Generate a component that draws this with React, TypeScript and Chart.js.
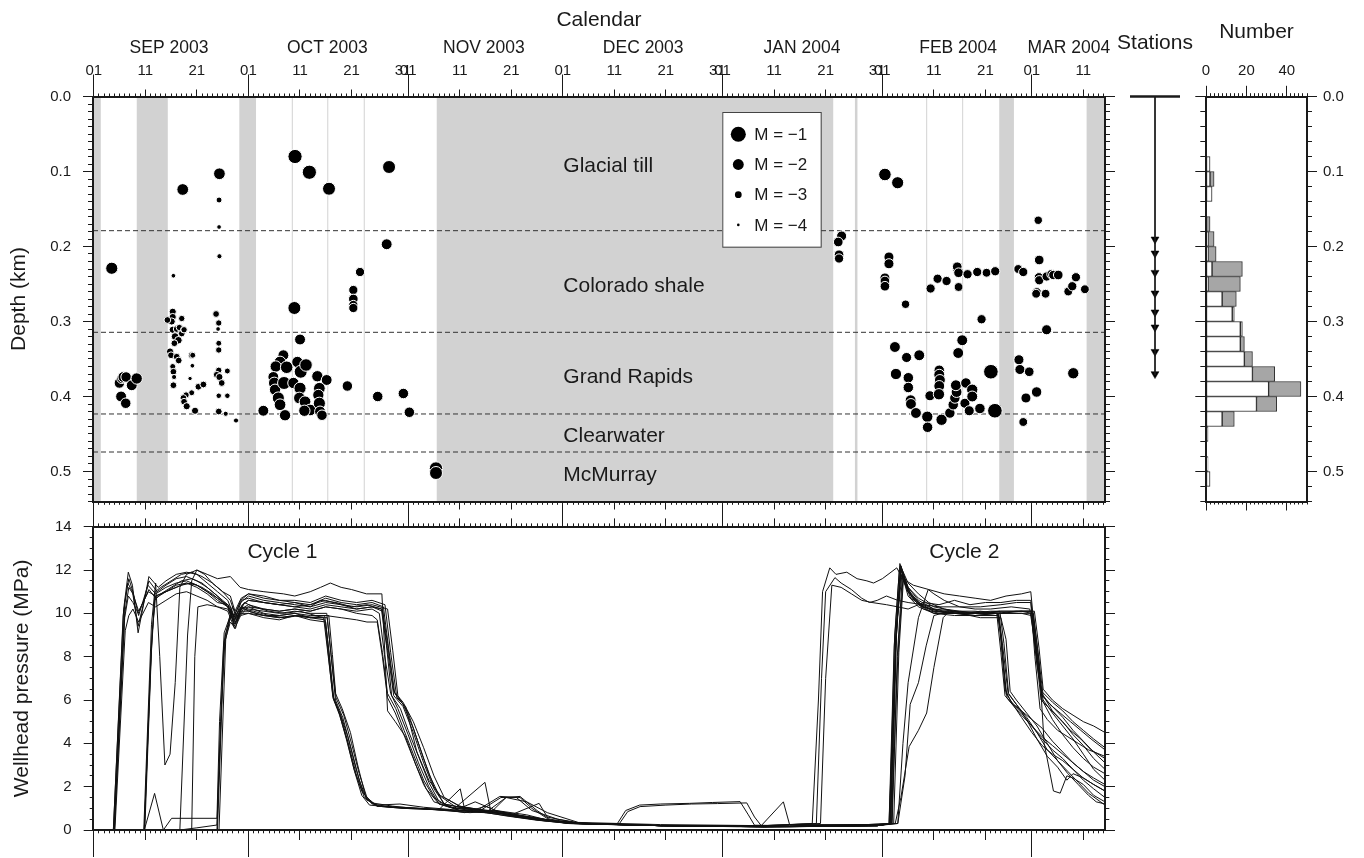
import React, { useEffect, useRef } from 'react';
import { Chart, registerables } from 'chart.js';

Chart.register(...registerables);

const FONT = '"Liberation Sans", Arial, Helvetica, sans-serif';
const INK = '#1a1a1a';
Chart.defaults.font.family = FONT;
Chart.defaults.color = INK;

// ---------------- calendar: x = days since 2003-09-01 ----------------
const dayMin = -0.15;
const dayMax = 196.2;
const monthStartDays = [0, 30, 61, 91, 122, 153, 182];
const midMonthTickDays = [10, 20, 40, 50, 71, 81, 101, 111, 132, 142, 163, 173, 192];
const dateLabelDays = [0, 10, 20, 30, 40, 50, 60, 61, 71, 81, 91, 101, 111, 121, 122, 132, 142, 152, 153, 163, 173, 182, 192];
const dateLabels = ['01', '11', '21', '01', '11', '21', '31', '01', '11', '21', '01', '11', '21', '31', '01', '11', '21', '31', '01', '11', '21', '01', '11'];
const monthLabelDays = [14.6, 45.3, 75.7, 106.6, 137.4, 167.7, 189.2];
const monthLabels = ['SEP 2003', 'OCT 2003', 'NOV 2003', 'DEC 2003', 'JAN 2004', 'FEB 2004', 'MAR 2004'];

// monitoring gaps (grey bands) and short outages (thin lines)
const gapStart = [-0.15, 8.34, 28.24, 66.54, 147.68, 175.68, 192.63];
const gapEnd = [1.36, 14.36, 31.48, 143.47, 148.17, 178.53, 196.2];
const shortGapDays = [38.53, 45.39, 52.49, 161.59, 168.57];

// ---------------- depth axis ----------------
const depthMax = 0.54;
const depthTicks = [0, 0.1, 0.2, 0.3, 0.4, 0.5];
const depthTickLabels = ['0.0', '0.1', '0.2', '0.3', '0.4', '0.5'];
const layerBoundaries = [0.1789, 0.3144, 0.4233, 0.474];
const layerNames = ['Glacial till', 'Colorado shale', 'Grand Rapids', 'Clearwater', 'McMurray'];
const layerLabelDepths = [0.0927, 0.2527, 0.3744, 0.4527, 0.5047];
const layerLabelDay = 91.1;

// ---------------- microseismic events ----------------
const eventDay = [
  3.49, 4.97, 5.43, 5.75, 6.27, 7.37, 8.33, 5.3, 6.2,
  17.26, 15.45, 15.32, 15.32, 15.12, 14.28, 15.32, 16.09, 16.61, 15.77, 16.42, 17.07, 17.39, 15.64, 14.8, 14.99, 16.09, 16.48, 15.32, 15.45, 15.58, 15.45, 17.07, 17.52, 19.0, 19.2, 19.13, 18.68, 19.0, 17.91, 17.39, 17.52, 18.03, 19.65, 20.3, 21.27,
  24.38, 24.31, 24.31, 24.38, 23.73, 24.25, 24.12, 24.25, 24.25, 24.25, 23.86, 24.38, 24.83, 25.92, 24.25, 25.92, 24.25, 25.6, 27.6,
  32.9, 39.05, 41.83, 45.64, 38.92, 40.02, 36.79, 36.14, 35.3, 34.84, 35.03, 35.17, 35.81, 36.14, 37.11, 37.43, 36.92, 38.73, 39.5, 40.15, 41.18, 40.02, 39.9, 40.99, 41.96, 40.86, 43.38, 45.19, 43.77, 43.57, 43.77, 43.9, 44.28, 57.29, 56.83, 51.66, 50.36, 50.36, 50.36, 50.36, 49.2, 55.09, 60.07, 61.23, 66.4, 66.4,
  145.1, 144.45, 144.6, 144.6, 153.5, 155.97, 154.28, 154.28, 153.5, 153.5, 153.5, 157.5, 155.44, 157.7, 160.16, 155.64, 158.04, 158.04, 158.49, 158.55, 159.52, 161.72, 161.78, 162.23, 164.04, 164.04, 164.17, 164.04, 163.98, 164.49, 166.1, 166.75, 167.07, 167.4, 167.27, 169.21, 169.02, 169.86, 170.44, 170.44, 171.93, 174.84, 174.06, 172.25, 168.5, 167.72,
  162.36, 163.72, 165.46, 167.53, 167.53, 167.79, 167.79, 169.53, 171.41, 173.22, 174.9, 179.37, 180.34, 183.44, 183.25, 183.38, 183.44, 184.87, 185.84, 186.16, 187.13, 182.96, 182.84, 184.67, 189.07, 189.85, 190.56, 192.3, 184.87, 179.5, 179.69, 181.5, 182.93, 180.86, 180.34, 190.04,
];
const eventDepth = [
  0.229, 0.382, 0.376, 0.374, 0.374, 0.385, 0.376, 0.400, 0.409,
  0.124, 0.239, 0.287, 0.294, 0.300, 0.298, 0.311, 0.310, 0.308, 0.320, 0.325, 0.316, 0.311, 0.329, 0.340, 0.345, 0.347, 0.352, 0.360, 0.367, 0.374, 0.385, 0.296, 0.311, 0.345, 0.345, 0.359, 0.376, 0.395, 0.398, 0.402, 0.407, 0.413, 0.419, 0.387, 0.384,
  0.103, 0.138, 0.174, 0.213, 0.290, 0.302, 0.310, 0.329, 0.338, 0.365, 0.371, 0.374, 0.382, 0.366, 0.399, 0.399, 0.420, 0.423, 0.432,
  0.419, 0.080, 0.101, 0.123, 0.282, 0.324, 0.345, 0.354, 0.360, 0.374, 0.382, 0.391, 0.402, 0.411, 0.425, 0.361, 0.382, 0.382, 0.354, 0.367, 0.358, 0.389, 0.402, 0.407, 0.418, 0.419, 0.373, 0.378, 0.389, 0.398, 0.409, 0.420, 0.425, 0.094, 0.197, 0.234, 0.258, 0.270, 0.278, 0.282, 0.386, 0.400, 0.396, 0.421, 0.496, 0.502,
  0.186, 0.194, 0.211, 0.216, 0.104, 0.115, 0.214, 0.223, 0.242, 0.246, 0.253, 0.277, 0.334, 0.348, 0.345, 0.370, 0.375, 0.388, 0.405, 0.410, 0.422, 0.427, 0.441, 0.399, 0.365, 0.371, 0.378, 0.386, 0.397, 0.431, 0.422, 0.411, 0.402, 0.394, 0.385, 0.382, 0.409, 0.419, 0.391, 0.400, 0.416, 0.419, 0.367, 0.297, 0.325, 0.342,
  0.256, 0.243, 0.246, 0.230, 0.227, 0.235, 0.254, 0.237, 0.234, 0.235, 0.233, 0.230, 0.234, 0.218, 0.165, 0.241, 0.245, 0.240, 0.237, 0.238, 0.238, 0.261, 0.263, 0.263, 0.260, 0.253, 0.241, 0.257, 0.311, 0.351, 0.364, 0.367, 0.394, 0.402, 0.434, 0.369,
];
const eventMag = [
  -1.7, -2.1, -2.2, -2.0, -2.1, -2.0, -1.9, -2.0, -2.1,
  -1.8, -3.5, -2.9, -2.9, -2.9, -3.0, -2.9, -3.0, -3.1, -2.8, -2.8, -3.0, -3.2, -3.0, -2.9, -3.0, -3.0, -3.0, -3.2, -3.0, -3.4, -3.0, -3.1, -3.1, -3.0, -3.2, -3.5, -3.6, -3.2, -3.1, -3.0, -3.0, -2.9, -2.9, -3.0, -3.0,
  -1.8, -3.2, -3.5, -3.4, -3.0, -3.1, -3.5, -3.2, -3.1, -3.1, -3.0, -2.9, -3.0, -3.2, -3.3, -3.3, -3.0, -3.4, -3.4,
  -2.0, -1.2, -1.2, -1.5, -1.5, -2.0, -2.0, -1.8, -1.9, -2.0, -1.8, -1.9, -1.7, -1.8, -1.9, -1.6, -1.5, -1.9, -1.9, -1.5, -1.6, -1.7, -1.8, -1.8, -1.8, -1.9, -1.9, -2.0, -1.8, -1.9, -1.7, -2.0, -2.1, -1.5, -2.0, -2.4, -2.4, -2.3, -2.4, -2.4, -2.1, -2.1, -2.1, -2.1, -1.4, -1.5,
  -2.2, -2.3, -2.3, -2.4, -1.6, -1.7, -2.2, -2.2, -2.2, -2.3, -2.3, -2.6, -2.0, -2.2, -2.0, -1.9, -2.1, -2.1, -2.0, -2.0, -2.0, -1.9, -2.1, -2.2, -2.1, -2.0, -2.0, -2.0, -1.9, -1.9, -2.1, -2.1, -2.1, -2.0, -2.0, -2.1, -2.2, -2.2, -1.9, -2.0, -2.1, -1.1, -1.1, -2.4, -2.0, -2.0,
  -2.4, -2.4, -2.4, -2.4, -2.3, -2.3, -2.5, -2.4, -2.4, -2.5, -2.4, -2.5, -2.4, -2.3, -2.6, -2.4, -2.4, -2.4, -2.3, -2.4, -2.3, -2.4, -2.5, -2.5, -2.5, -2.4, -2.4, -2.5, -2.2, -2.2, -2.2, -2.3, -2.1, -2.2, -2.5, -1.9,
];
const legendMags = [-1, -2, -3, -4];
const legendLabels = ['M = \u22121', 'M = \u22122', 'M = \u22123', 'M = \u22124'];
const magRadius = (m: number) => Math.max(1.2, 9.6 + 2.07 * m);

// ---------------- stations & histogram ----------------
const stationDepths = [0.1904, 0.2091, 0.2349, 0.2624, 0.2877, 0.3077, 0.3403, 0.37];
const boreholeBottom = 0.3713;
const binDepths = [0.09, 0.11, 0.13, 0.15, 0.17, 0.19, 0.21, 0.23, 0.25, 0.27, 0.29, 0.31, 0.33, 0.35, 0.37, 0.39, 0.41, 0.43, 0.45, 0.47, 0.49, 0.51];
const cycle1Counts = [2, 2, 3, 0, 0, 1, 1, 3, 1, 8, 13, 17, 17, 19, 23, 31, 25, 8, 0, 0, 1, 2];
const cycle2Counts = [0, 2, 0, 0, 2, 3, 4, 15, 16, 7, 1, 1, 2, 4, 11, 16, 10, 6, 1, 0, 0, 0];
const countMax = 50;
const countTicks = [0, 20, 40];
const countTickLabels = ['0', '20', '40'];

// ---------------- wellhead pressure (MPa) per well: [day, MPa] ----------------
const pressureTicks = [0, 2, 4, 6, 8, 10, 12, 14];
const pressureTickLabels = ['0', '2', '4', '6', '8', '10', '12', '14'];
const cycleNames = ['Cycle 1', 'Cycle 2'];
const cycleLabelDays = [36.6, 168.9];
const cycleLabelMPa = 12.8;

const well01 = [[0,0],[3.8,0],[5.8,10.2],[6.7,11.9],[7.5,11.3],[8.6,9.1],[10.7,11.7],[12.5,11.2],[14,11.5],[16,11.8],[18,11.9],[20,11.8],[22,11.4],[24,11],[26,10.6],[27.2,9.9],[28.5,10.5],[30,10.8],[33,10.6],[36,10.5],[39,10.4],[42,10.3],[44,10.6],[47,10.5],[50,10.3],[53,10.4],[55.8,10.2],[56.8,8.5],[57.8,6.2],[59.5,5.6],[61,4.6],[63,3.4],[65,2.2],[67,1.3],[70,1],[76,0.9],[82,0.6],[88,0.45],[94,0.3],[110,0.2],[135,0.15],[150,0.2],[154.3,0.3],[155.5,8],[156.5,12.2],[158,11.4],[160,10.9],[162,10.5],[165,10.2],[168,10.1],[172,10],[176,10.1],[180,10.1],[182,10],[183,8],[184,6.2],[186,5.7],[188,5.2],[190,4.6],[192,4.1],[194,3.6],[196.2,3.1]];
const well02 = [[0,0],[4,0],[6,10.5],[6.8,11.6],[7.6,11],[8.7,9.9],[10.5,11.3],[12,10.9],[14,11.2],[16,11.4],[18,11.5],[20,11.3],[22,11],[24,10.6],[26,10.3],[27.2,9.6],[28.5,10.2],[30,10.3],[33,10],[36,9.9],[39,10],[42,9.8],[44.6,9.8],[45.5,8],[46.4,6.2],[47.5,5.5],[49,4.2],[50.5,2.8],[52,1.8],[54,1.2],[58,1.05],[63,1],[68,0.95],[72,0.8],[76,1.1],[80,0.7],[86,0.5],[93,0.3],[110,0.2],[135,0.15],[152,0.2],[154.6,0.3],[155.6,9],[156.6,12],[158,11],[160,10.4],[163,10.1],[167,10],[171,9.9],[175.3,10],[176,9],[176.8,6.5],[178,5.9],[180,5.5],[182,5.1],[184,4.7],[186,4.1],[188,3.6],[190,3.1],[192,2.7],[194,2.3],[196.2,2]];
const well03 = [[0,0],[3.9,0],[6,9.8],[6.7,10.8],[7.6,10.5],[8.6,10],[10.7,11.1],[12,10.7],[14,11],[16,11.2],[18,11.4],[20,11.2],[22,10.9],[24,10.5],[26,10.4],[27.2,9.8],[28.5,10.6],[30,10.9],[33,10.8],[36,10.6],[39,10.5],[42,10.4],[45,10.7],[48,10.5],[51,10.4],[54,10.5],[56.2,10.3],[57.2,8.4],[58.4,6.3],[60,5.8],[62,4.7],[64,3.3],[66,2],[68,1.2],[72,1],[76,0.8],[80,1.5],[84,1.3],[88,0.8],[94,0.35],[110,0.25],[130,0.2],[139.4,0.3],[140.6,6],[141.4,11],[142.8,12.1],[144,11.8],[146.1,11.9],[148.1,11.6],[150,11.5],[151.3,11.4],[153,11.6],[155.8,12.1],[157,11.6],[159,11.3],[162,11.1],[165,10.9],[168,10.8],[171,10.7],[174,10.6],[177,10.8],[180,10.9],[181.8,11],[182.8,8.5],[183.9,6.4],[186,5.9],[188,5.5],[190,5],[192,4.6],[194,4.2],[196.2,3.8]];
const well04 = [[0,0],[4.1,0],[6.1,9.2],[6.8,9.9],[7.6,10.2],[8.7,9.6],[10.6,10.5],[12,10.3],[14,10.6],[16,10.9],[18,11],[20,10.8],[22,10.6],[24,10.3],[26,10.1],[27.3,9.3],[28.5,9.9],[30,10],[33,9.8],[36,9.7],[39,9.9],[42,9.7],[45,9.6],[45.8,7.8],[46.6,6],[48,5.2],[49.5,3.9],[51,2.5],[52.5,1.5],[55,1.1],[60,1],[65,0.95],[70,0.9],[74,1.3],[78,0.9],[84,0.6],[90,0.4],[100,0.25],[125,0.15],[152,0.2],[154.8,0.3],[155.8,9.5],[156.8,11.8],[158,10.8],[160,10.3],[163,10],[167,10],[171,9.9],[175.5,9.9],[176.2,8.6],[177,6.3],[178.4,5.8],[180,5.4],[182,4.8],[184,4.2],[186,3.7],[188,3.3],[190,2.8],[192,2.3],[194,1.9],[196.2,1.5]];
const well05 = [[0,0],[3.8,0],[5.7,9.9],[6.6,11.4],[7.5,11],[8.6,9.4],[10.7,11.5],[12.3,11],[14,11.3],[16,11.6],[18,11.7],[20,11.5],[22,11.2],[24,10.8],[26,10.3],[27.2,9.5],[28.5,10],[30,10],[33,9.9],[36,9.8],[39,9.9],[42,9.8],[45,9.9],[48,9.8],[51,9.7],[53,9.6],[55,9.6],[56,8],[57,6.1],[58.5,5.4],[60,4.5],[62,3.3],[64,2.1],[66,1.3],[70,1],[75,0.85],[80,0.65],[86,0.45],[93,0.3],[110,0.2],[135,0.15],[152,0.25],[155.5,0.3],[156.6,1.5],[158.2,3.85],[160,4.6],[161.6,5.4],[163,7.5],[164.8,9.8],[166,10.1],[169,10],[172,10.1],[176,10],[180,10],[181.9,9.9],[183,7.6],[184.2,6],[186,5.4],[188,4.8],[190,4.2],[192,3.5],[194,2.8],[196.2,2.3]];
const well06 = [[0,0],[9.8,0],[11.2,8.5],[11.9,11],[13,11.2],[15,11.5],[17,11.8],[19,11.9],[21,11.7],[23,11.4],[25,11],[26.5,10.8],[27.4,10.1],[28.6,10.7],[30,10.9],[33,10.7],[36,10.6],[39,10.6],[42,10.5],[45,10.8],[48,10.6],[51,10.5],[54,10.6],[56.5,10.4],[57.6,8.2],[58.8,6.1],[60.5,5.7],[62.7,3.6],[65,2.3],[67.2,1.6],[71,1.1],[75,0.9],[79,1.5],[82,1.5],[85,0.9],[90,0.5],[95,0.3],[101.6,0.3],[103.2,0.9],[105.9,1.15],[110,1.2],[115.6,1.23],[120,1.27],[125.4,1.31],[127,0.7],[128.2,0.22],[135,0.2],[150,0.25],[154.5,0.3],[155.6,8.5],[156.6,12],[158,11.2],[160,10.7],[163,10.3],[167,10.1],[171,10.1],[175,10],[179,10.1],[182.2,10.1],[183.2,8.2],[184.2,6.2],[186,5.5],[188,5],[190,4.4],[192,3.9],[194,3.3],[196.2,2.8]];
const well07 = [[0,0],[9.9,0],[11.3,9],[12,10.8],[13,10.9],[15,11.2],[17,11.5],[19,11.6],[21,11.4],[23,11],[25,10.6],[26.5,10.3],[27.3,9.7],[28.5,10.1],[30,10.1],[33,9.9],[36,9.9],[39,10],[42,9.9],[44.8,9.9],[45.6,8.3],[46.5,6.1],[47.8,5.4],[49.3,4.3],[50.8,2.9],[52.3,1.7],[54,1.25],[58,1.1],[62,1],[67,0.95],[71.1,1.9],[72,0.9],[77,0.8],[80,1.5],[82.7,1.55],[86,0.9],[88.5,0.5],[94,0.3],[110,0.2],[130,0.15],[152,0.2],[154.6,0.3],[155.6,8.8],[156.6,12.1],[158,11],[160,10.5],[163,10.1],[167,10],[171,10],[175.5,10],[176.3,8],[177.2,6.1],[178.6,5.7],[180,5.2],[182,4.5],[184,3.9],[186,3.5],[188,3.2],[190,2.8],[192,2.4],[194,2.1],[196.2,1.8]];
const well08 = [[0,0],[9.8,0],[11,7.5],[11.8,10.6],[13,10.9],[15,11.1],[17,11.3],[19,11.4],[21,11.2],[23,10.9],[25,10.5],[26.5,10.2],[27.2,9.4],[28.4,9.9],[30,10.3],[33,10.2],[36,10.1],[39,10.2],[42,10.1],[45,10.3],[48,10.2],[51,10.1],[54,10.2],[55.4,10],[56.4,8.1],[57.6,6.3],[59,5.6],[61,4.4],[63,3.1],[65,2],[67,1.2],[70,1],[75.9,2.2],[77,0.9],[81,0.75],[86,0.55],[92,0.3],[102,0.3],[103.6,0.85],[106,1.08],[111,1.15],[116,1.2],[121,1.22],[126.7,1.25],[128.2,0.6],[129.5,0.2],[133.8,1.3],[135,0.25],[150,0.25],[154.8,0.3],[156,8],[157,11.6],[158.5,10.7],[161,10.3],[164,10.1],[167,10],[171,10],[175,10],[179,10],[182.3,10],[183.4,7.8],[184.4,4],[186.2,1.8],[187.5,1.7],[188.8,2.5],[190,2.4],[192,2.1],[194,1.6],[196.2,1.3]];
const well09 = [[0,0],[9.7,0],[11.2,9.5],[12,11.4],[12.8,8],[13.8,3],[14.8,3.5],[15.8,6.8],[16.7,11.2],[18,11.8],[20,12],[22,11.8],[24,11.6],[26.5,11.7],[28.4,11.2],[30,11.1],[33,11],[36.8,10.9],[39,10.8],[42,11],[44,11.2],[45.9,11.4],[48,11.2],[50,11.1],[52.9,10.9],[55.9,10.9],[56.3,9],[57,5.5],[58.5,5],[60.5,4.3],[62.5,3],[64.5,1.9],[67,1.2],[71,0.9],[76,0.8],[82,0.6],[88,0.4],[94,0.3],[110,0.2],[130,0.2],[140.2,0.3],[141.2,7],[142,11],[143.8,11.65],[145,11.4],[147,11.1],[149,10.7],[150.5,10.5],[152,10.6],[153.8,10.8],[156,10.6],[158,10.5],[161,10.4],[164,10.3],[168,10.3],[172,10.3],[176,10.4],[179,10.5],[181.8,10.5],[182.6,8],[183.6,5.6],[185,5.1],[187,4.6],[189,4.3],[191,4],[193,3.7],[196.2,3.4]];
const well10 = [[0,0],[16.7,0],[18.2,9],[19,11.5],[20,12],[21.5,11.8],[23,11.4],[25,11],[26.5,10.6],[27.5,9.9],[28.7,10.3],[30,10.2],[33,10.1],[36,10],[39,10.1],[42,10],[45.2,10],[46,8.2],[46.9,6.3],[48.2,5.6],[49.8,4.5],[51.2,3],[52.9,1.4],[55,1.15],[59.4,1.2],[64,1.05],[69,0.95],[74,0.85],[78.8,1.55],[82.7,1.5],[85,1],[88.5,0.45],[94,0.3],[110,0.2],[130,0.15],[152,0.2],[154.4,0.3],[155.4,9],[156.4,12.3],[158,11.1],[160,10.5],[163,10.2],[167,10],[171,10],[175.6,10],[176.4,8.4],[177.4,6.3],[179,5.8],[181,5.2],[183,4.5],[185,3.7],[187,3.2],[189,2.6],[191,2.1],[193,1.6],[194.5,1.3],[196.2,1.2]];
const well11 = [[0,0],[19,0],[19.6,8],[20.2,10.3],[22,10.4],[24,10.3],[26,10.2],[27.4,9.5],[28.8,10.4],[30,10.6],[33,10.5],[36,10.4],[39,10.3],[42,10.4],[45,10.6],[48,10.4],[51,10.3],[54,10.4],[57,10.2],[58,8.3],[59,6.2],[61,5.4],[63,4],[65,2.6],[67,1.6],[70,1.1],[75,0.95],[80,0.8],[85,0.55],[92,0.3],[110,0.2],[130,0.15],[152,0.25],[156,0.3],[157,4],[158,6.8],[160,9.8],[161.9,11.1],[163,10.9],[165,10.6],[168,10.3],[171,10.2],[174,10.2],[178,10.3],[181.6,10.2],[182.8,8.3],[183.9,6.3],[185.5,5.8],[187.5,5.4],[189.5,5],[191.5,4.6],[193.5,4.2],[196.2,3.7]];
const well12 = [[0,0],[23.9,0],[25.2,8.5],[26.5,9.6],[27.5,9.3],[28.6,10.3],[30,10.1],[33,9.9],[36,9.8],[39,9.9],[42,9.8],[44.8,9.7],[45.6,7.9],[46.4,6.1],[47.7,5.3],[49.2,4.1],[50.6,2.7],[52,1.6],[53.5,1.15],[58,1.05],[63,1],[68,0.9],[73,0.8],[78,0.9],[84,0.7],[89,0.4],[95,0.3],[110,0.2],[130,0.15],[152,0.2],[154.3,0.3],[155.3,8.5],[156.3,12],[158,11],[160,10.4],[163,10],[167,9.9],[171,9.9],[175.2,10],[176,8.2],[176.8,6.2],[178.2,5.8],[180,5.3],[182,4.8],[184,4.3],[186,3.9],[188,3.5],[190,3.1],[192,2.7],[194,2.4],[196.2,2.1]];
const well13 = [[0,0],[24,0],[25.3,8.7],[26.6,10.1],[27.5,9.8],[28.7,10.6],[30,10.7],[33,10.5],[36,10.4],[39,10.5],[42,10.3],[45,10.5],[48,10.4],[51,10.2],[54,10.3],[56,10.1],[57,8.3],[58.2,6.2],[60,5.7],[62,4.5],[64,3.1],[66,1.9],[68,1.2],[72,1],[77,0.85],[82,0.65],[88,0.45],[94,0.3],[110,0.2],[130,0.15],[152,0.2],[154.9,0.3],[155.9,8],[156.9,11.8],[158.5,10.9],[161,10.3],[164,10.1],[168,10],[172,10],[176,10],[180,10.1],[182.5,10.1],[183.4,8.4],[184.2,6.5],[186,6],[188,5.6],[190,5.3],[192,5],[194,4.8],[196.2,4.5]];
const well14 = [[0,0],[24.3,0],[25.6,8.8],[26.9,10.3],[28,9.8],[29.2,10.5],[31,10.3],[34,10.1],[37,10],[40,10.1],[43,9.9],[45.6,9.9],[46.3,8.1],[47,6.1],[48.5,5.3],[50,4],[51.5,2.6],[53,1.5],[55,1.1],[60,1],[66,0.95],[71,0.9],[76,0.85],[81,0.7],[86.4,1.23],[88,0.6],[94,0.3],[110,0.2],[130,0.15],[152,0.2],[155.2,0.3],[156.2,8.2],[157.1,11.6],[158.8,10.7],[161,10.2],[164,10],[168,10],[172,9.8],[176,9.8],[177,8.8],[177.8,6.4],[179,6],[181,5.4],[183,4.8],[185,4],[187,3.2],[189,2.7],[191,2.2],[193,1.7],[196.2,1.15]];
const well15 = [[0,0],[9.8,0],[11.8,1.69],[13.5,0],[15.1,0.54],[23.9,0.54],[24.4,5],[25.3,9.1],[26.5,9.9],[27.5,9.6],[28.6,10.2],[30,10.4],[33,10.2],[36,10.1],[39,10.2],[42,10.1],[45,10.3],[48,10.2],[51,10],[54,9.9],[55,9.7],[56,8.2],[57,6.3],[58.6,5.6],[60.2,4.6],[62,3.5],[64,2.3],[66,1.5],[69,1.05],[74,0.95],[79,0.75],[85,0.5],[92,0.3],[110,0.2],[130,0.15],[152,0.2],[156,0.3],[157.4,2.5],[158.4,5.8],[160,6.8],[161.5,8.5],[163,9.9],[166,10.1],[170,10],[174,10.1],[178,10.1],[182,10.1],[183.2,7.9],[184,6],[186,5.1],[188,4.4],[190,3.8],[192,3.3],[194,2.9],[196.2,2.6]];
const well16 = [[0,0],[16.7,0],[20,0.1],[23.9,0.23],[24.6,5],[25.5,9],[26.8,10],[27.8,9.7],[29,10.2],[31,10.1],[34,9.9],[37,9.8],[40,9.9],[43,9.8],[45.3,9.8],[46.1,7.9],[46.9,6],[48.3,5.2],[50,3.7],[51.5,2.3],[53,1.4],[55,1.1],[60,1.05],[66,0.95],[71,0.85],[76,0.8],[80,0.75],[85,0.6],[90,0.4],[96,0.3],[110,0.2],[130,0.15],[152,0.2],[154.6,0.3],[155.6,8.6],[156.6,12.2],[158,11.2],[160,10.6],[163,10.2],[167,10.1],[171,10],[175.8,10.1],[176.6,8.6],[177.5,6.3],[179,5.8],[181,5.1],[183,4.2],[185,3.4],[187,2.9],[188.8,2.3],[190,2.6],[192,2.4],[194,2.1],[196.2,1.8]];
const well17 = [[0,0],[4,0],[6,10],[6.8,11.2],[7.6,10.9],[8.7,10.1],[10.6,11],[12,10.8],[14,11],[16,11.3],[18,11.4],[20,11.3],[22,11],[24,10.7],[26,10.4],[27.2,9.7],[28.5,10.3],[30,10.6],[33,10.5],[36,10.4],[39,10.3],[42,10.2],[45,10.4],[48,10.3],[51,10.2],[54,10.3],[56,10.2],[57,8.6],[58.2,6.4],[60,5.9],[62,5],[64,3.8],[66,2.5],[68,1.5],[71,1.1],[76,0.9],[81,0.7],[87,0.5],[93,0.3],[110,0.2],[130,0.2],[141,0.3],[142,7],[143.2,11.3],[145,11.2],[147,10.9],[149,10.6],[151,10.5],[153.8,10.4],[156,10.3],[158,10.2],[161,10.5],[164,10.4],[167,10.6],[170,10.4],[173,10.5],[176,10.5],[179,10.6],[181.8,10.6],[182.8,8.2],[183.8,6],[185.5,5.6],[187.5,5.1],[189.5,4.6],[191.5,4.2],[193.5,3.7],[196.2,3.3]];
const wells = [well01, well02, well03, well04, well05, well06, well07, well08, well09, well10, well11, well12, well13, well14, well15, well16, well17];

// ---------------- helpers ----------------
const seq = (n: number, step: number) => Array.from({ length: n }, (_, i) => +(i * step).toFixed(4));
const dailyTicks = seq(197, 1);
const depthMinor = seq(55, 0.01);
const depthBins = seq(28, 0.02);
const pressureMinor = seq(29, 0.5);
const countMinor = seq(26, 2);

type Side = 'top' | 'bottom' | 'left' | 'right';
function tickAxis(side: Side, min: number, max: number, values: number[], len: number, opt: any = {}): any {
  const horiz = side === 'top' || side === 'bottom';
  return {
    type: 'linear',
    axis: horiz ? 'x' : 'y',
    position: side,
    min,
    max,
    reverse: !!opt.reverse,
    offset: false,
    weight: opt.weight ?? 0,
    afterBuildTicks: (s: any) => { s.ticks = values.map((v) => ({ value: v })); },
    afterFit: (s: any) => { if (horiz) s.height = opt.size ?? 0; else s.width = opt.size ?? 0; },
    grid: { display: len > 0, drawOnChartArea: false, drawTicks: len > 0, tickLength: len, tickColor: INK, tickWidth: 1, offset: false },
    border: { display: !!opt.border, width: 2, color: INK, z: 1 },
    ticks: opt.labels
      ? { display: true, autoSkip: false, maxRotation: 0, minRotation: 0, padding: opt.padding ?? 3, color: INK, font: { family: FONT, size: opt.fontSize ?? 15 }, callback: (_v: any, i: number) => opt.labels[i] }
      : { display: false },
  };
}

const baseOptions = (padding: any) => ({
  responsive: false,
  maintainAspectRatio: false,
  animation: false,
  events: [],
  layout: { padding },
  plugins: { legend: { display: false }, tooltip: { enabled: false }, title: { display: false } },
});

function drawText(ctx: CanvasRenderingContext2D, text: string, x: number, y: number, size: number, align: CanvasTextAlign = 'center', rotate = false) {
  ctx.save();
  ctx.fillStyle = INK;
  ctx.font = `${size}px ${FONT}`;
  ctx.textAlign = align;
  ctx.textBaseline = 'middle';
  ctx.translate(x, y);
  if (rotate) ctx.rotate(-Math.PI / 2);
  ctx.fillText(text, 0, 0);
  ctx.restore();
}

// ---------------- chart configs ----------------
function topConfig(): any {
  const decor = {
    id: 'topDecor',
    beforeDatasetsDraw(chart: any) {
      const { ctx, chartArea: a, scales } = chart;
      const xs = scales.x, ys = scales.y;
      ctx.save();
      ctx.beginPath();
      ctx.rect(a.left, a.top, a.right - a.left, a.bottom - a.top);
      ctx.clip();
      ctx.fillStyle = '#d2d2d2';
      gapStart.forEach((s, i) => {
        const x1 = xs.getPixelForValue(s), x2 = xs.getPixelForValue(gapEnd[i]);
        ctx.fillRect(x1, a.top, x2 - x1, a.bottom - a.top);
      });
      ctx.strokeStyle = '#dadada';
      ctx.lineWidth = 1.2;
      shortGapDays.forEach((d) => {
        const x = xs.getPixelForValue(d);
        ctx.beginPath();
        ctx.moveTo(x, a.top);
        ctx.lineTo(x, a.bottom);
        ctx.stroke();
      });
      ctx.restore();
      layerNames.forEach((n, i) => drawText(ctx, n, xs.getPixelForValue(layerLabelDay), ys.getPixelForValue(layerLabelDepths[i]), 21, 'left'));
    },
    afterDatasetsDraw(chart: any) {
      const { ctx, chartArea: a } = chart;
      const bx = a.left + 629.3, by = a.top + 15.5, bw = 98.4, bh = 134.7;
      ctx.save();
      ctx.fillStyle = '#fff';
      ctx.fillRect(bx, by, bw, bh);
      ctx.strokeStyle = '#444';
      ctx.lineWidth = 1;
      ctx.strokeRect(bx + 0.5, by + 0.5, bw, bh);
      legendMags.forEach((m, i) => {
        const cy = by + 22.3 + i * 30.2;
        ctx.beginPath();
        ctx.arc(bx + 16, cy, magRadius(m), 0, Math.PI * 2);
        ctx.fillStyle = '#000';
        ctx.fill();
        drawText(ctx, legendLabels[i], bx + 32, cy + 1, 17, 'left');
      });
      ctx.restore();
    },
    afterDraw(chart: any) {
      const { ctx, chartArea: a } = chart;
      drawText(ctx, 'Calendar', (a.left + a.right) / 2, 20.7, 21);
      drawText(ctx, 'Depth (km)', 19.5, (a.top + a.bottom) / 2, 21, 'center', true);
    },
  };
  return {
    type: 'scatter',
    data: {
      datasets: [
        {
          label: 'events',
          data: eventDay.map((d, i) => ({ x: d, y: eventDepth[i] })),
          backgroundColor: '#000',
          borderColor: '#fff',
          borderWidth: 1,
          pointRadius: (c: any) => magRadius(eventMag[c.dataIndex] ?? -2),
          xAxisID: 'x',
          yAxisID: 'y',
          order: 0,
        },
        ...layerBoundaries.map((d) => ({
          label: 'boundary',
          data: [{ x: dayMin, y: d }, { x: dayMax, y: d }],
          showLine: true,
          borderColor: '#333',
          borderWidth: 1,
          borderDash: [5, 3],
          pointRadius: 0,
          xAxisID: 'x',
          yAxisID: 'y',
          order: 1,
        })),
      ],
    },
    options: {
      ...baseOptions({ left: 0, top: 0, right: 259, bottom: 356.5 }),
      scales: {
        x: tickAxis('bottom', dayMin, dayMax, dailyTicks, 3.3, { border: true }),
        xBotMaj: tickAxis('bottom', dayMin, dayMax, midMonthTickDays, 8),
        xBotMon: tickAxis('bottom', dayMin, dayMax, monthStartDays, 12),
        xTopMin: tickAxis('top', dayMin, dayMax, dailyTicks, 3, { border: true }),
        xTopMaj: tickAxis('top', dayMin, dayMax, midMonthTickDays, 7),
        xTopMon: tickAxis('top', dayMin, dayMax, monthStartDays, 22),
        xTopLab: tickAxis('top', dayMin, dayMax, dateLabelDays, 0, { labels: dateLabels, padding: 16.8, size: 37, weight: 1 }),
        xMonth: tickAxis('top', dayMin, dayMax, monthLabelDays, 0, { labels: monthLabels, padding: 0.7, size: 59.5, weight: 2, fontSize: 17.5 }),
        y: tickAxis('left', 0, depthMax, depthMinor, 5, { border: true, reverse: true }),
        yLeftMaj: tickAxis('left', 0, depthMax, depthTicks, 10, { reverse: true, labels: depthTickLabels, padding: 12, size: 93, weight: 1 }),
        yRight: tickAxis('right', 0, depthMax, depthMinor, 5, { border: true, reverse: true }),
        yRightMaj: tickAxis('right', 0, depthMax, depthTicks, 10, { reverse: true }),
      },
    },
    plugins: [decor],
  };
}

function bottomConfig(): any {
  const decor = {
    id: 'botDecor',
    afterDraw(chart: any) {
      const { ctx, chartArea: a, scales } = chart;
      cycleNames.forEach((n, i) => drawText(ctx, n, scales.x.getPixelForValue(cycleLabelDays[i]), scales.y.getPixelForValue(cycleLabelMPa), 21));
      drawText(ctx, 'Wellhead pressure (MPa)', 22, (a.top + a.bottom) / 2, 21, 'center', true);
    },
  };
  return {
    type: 'line',
    data: {
      datasets: wells.map((w, i) => ({
        label: `well ${i + 1}`,
        data: w.map(([x, y]) => ({ x, y })),
        borderColor: '#111',
        borderWidth: 1,
        pointRadius: 0,
        tension: 0,
        fill: false,
        xAxisID: 'x',
        yAxisID: 'y',
      })),
    },
    options: {
      ...baseOptions({ left: 0, top: 526.7, right: 259, bottom: 28 }),
      scales: {
        x: tickAxis('bottom', dayMin, dayMax, dailyTicks, 3.3, { border: true }),
        xBotMaj: tickAxis('bottom', dayMin, dayMax, midMonthTickDays, 10),
        xBotMon: tickAxis('bottom', dayMin, dayMax, monthStartDays, 27),
        xTop: tickAxis('top', dayMin, dayMax, dailyTicks, 3.3, { border: true }),
        xTopMaj: tickAxis('top', dayMin, dayMax, midMonthTickDays, 8.3),
        xTopMon: tickAxis('top', dayMin, dayMax, monthStartDays, 25),
        y: tickAxis('left', 0, 14, pressureMinor, 3.3, { border: true }),
        yLeftMaj: tickAxis('left', 0, 14, pressureTicks, 9.3, { labels: pressureTickLabels, padding: 12, size: 93, weight: 1 }),
        yRight: tickAxis('right', 0, 14, pressureMinor, 4.3, { border: true }),
        yRightMaj: tickAxis('right', 0, 14, pressureTicks, 10),
      },
    },
    plugins: [decor],
  };
}

function stationsConfig(): any {
  const decor = {
    id: 'staDecor',
    afterDraw(chart: any) {
      const { ctx, chartArea: a } = chart;
      drawText(ctx, 'Stations', (a.left + a.right) / 2, 43.3, 21);
    },
  };
  return {
    type: 'scatter',
    data: {
      datasets: [
        { label: 'surface', data: [{ x: 0, y: 0 }, { x: 1, y: 0 }], showLine: true, borderColor: INK, borderWidth: 2.5, pointRadius: 0, clip: false },
        { label: 'borehole', data: [{ x: 0.5, y: 0 }, { x: 0.5, y: boreholeBottom }], showLine: true, borderColor: INK, borderWidth: 1, pointRadius: 0, clip: false },
        { label: 'stations', data: stationDepths.map((d) => ({ x: 0.5, y: d })), pointStyle: 'triangle', rotation: 180, pointRadius: 4.6, backgroundColor: '#000', borderColor: '#000', borderWidth: 0.5, clip: false },
      ],
    },
    options: {
      ...baseOptions({ left: 1130, top: 96.5, right: 184, bottom: 356.5 }),
      scales: {
        x: { type: 'linear', display: false, min: 0, max: 1 },
        y: { type: 'linear', display: false, min: 0, max: depthMax, reverse: true },
      },
    },
    plugins: [decor],
  };
}

function histConfig(): any {
  const decor = {
    id: 'histDecor',
    afterDraw(chart: any) {
      const { ctx, chartArea: a } = chart;
      drawText(ctx, 'Number', (a.left + a.right) / 2, 32.3, 21);
    },
  };
  const common = { borderWidth: 1, borderSkipped: false, barPercentage: 1, categoryPercentage: 1, xAxisID: 'x', yAxisID: 'y' };
  return {
    type: 'bar',
    data: {
      datasets: [
        { label: 'Cycle 1', data: binDepths.map((d, i) => ({ y: d, x: cycle1Counts[i] })), backgroundColor: '#ffffff', borderColor: '#222', ...common },
        { label: 'Cycle 2', data: binDepths.map((d, i) => ({ y: d, x: cycle2Counts[i] })), backgroundColor: '#a6a6a6', borderColor: '#333', ...common },
      ],
    },
    options: {
      ...baseOptions({ left: 1206, top: 0, right: 0, bottom: 356.5 }),
      indexAxis: 'y',
      scales: {
        x: { ...tickAxis('bottom', 0, countMax, countMinor, 3, { border: true }), stacked: true },
        xBotMaj: tickAxis('bottom', 0, countMax, countTicks, 9),
        xTop: tickAxis('top', 0, countMax, countMinor, 3.3, { border: true }),
        xTopMaj: tickAxis('top', 0, countMax, countTicks, 10.7, { labels: countTickLabels, padding: 6.1, size: 96.5, weight: 1 }),
        y: { ...tickAxis('left', 0, depthMax, depthBins, 5.7, { border: true, reverse: true }), stacked: true },
        yLeftMaj: tickAxis('left', 0, depthMax, depthTicks, 10.7, { reverse: true }),
        yRight: tickAxis('right', 0, depthMax, depthBins, 5, { border: true, reverse: true }),
        yRightMaj: tickAxis('right', 0, depthMax, depthTicks, 10, { reverse: true, labels: depthTickLabels, padding: 6, size: 57, weight: 1 }),
      },
    },
    plugins: [decor],
  };
}

export default function App() {
  const topRef = useRef<HTMLCanvasElement>(null);
  const botRef = useRef<HTMLCanvasElement>(null);
  const staRef = useRef<HTMLCanvasElement>(null);
  const histRef = useRef<HTMLCanvasElement>(null);

  useEffect(() => {
    const charts = [
      new Chart(topRef.current as HTMLCanvasElement, topConfig()),
      new Chart(botRef.current as HTMLCanvasElement, bottomConfig()),
      new Chart(staRef.current as HTMLCanvasElement, stationsConfig()),
      new Chart(histRef.current as HTMLCanvasElement, histConfig()),
    ];
    return () => charts.forEach((c) => c.destroy());
  }, []);

  const cs: React.CSSProperties = { position: 'absolute', left: 0, top: 0, width: 1364, height: 858 };
  return (
    <div style={{ position: 'fixed', left: 0, top: 0, width: 1364, height: 858, background: '#fff', overflow: 'hidden' }}>
      <canvas ref={topRef} width={1364} height={858} style={cs} />
      <canvas ref={botRef} width={1364} height={858} style={cs} />
      <canvas ref={staRef} width={1364} height={858} style={cs} />
      <canvas ref={histRef} width={1364} height={858} style={cs} />
    </div>
  );
}
